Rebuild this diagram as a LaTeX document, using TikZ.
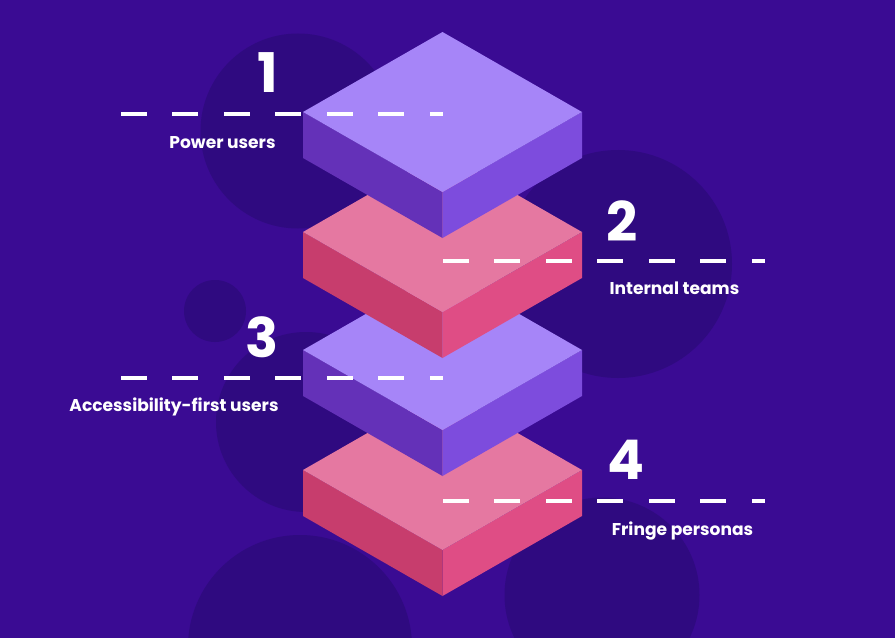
\documentclass[tikz,border=0pt]{standalone}
\usepackage{fontspec}
\setmainfont{Poppins}
\definecolor{bgviolet}{HTML}{3A0B93}
\definecolor{blobviolet}{HTML}{2F0A80}
\definecolor{liltop}{HTML}{A685F8}
\definecolor{lilleft}{HTML}{6431B8}
\definecolor{lilright}{HTML}{7D4CDD}
\definecolor{pinktop}{HTML}{E578A1}
\definecolor{pinkleft}{HTML}{C73D6D}
\definecolor{pinkright}{HTML}{DF4D85}
\tikzset{
  blob/.style={fill=blobviolet},
  leader/.style={white,line width=3pt,dash pattern=on 19.4pt off 19.2pt},
  numlabel/.style={white,inner sep=0pt,font=\fontsize{41}{41}\selectfont\bfseries},
  textlabel/.style={white,inner sep=0pt,font=\fontsize{12.8}{15}\selectfont\bfseries}
}
\begin{document}
\begin{tikzpicture}[x=0.75pt,y=-0.75pt]
  \fill[bgviolet] (0,0) rectangle (895,638);
  \useasboundingbox (0,0) rectangle (895,638);
  % background circles
  \foreach \cx/\cy/\r in {298/131/97.5,618/264/114,215/311/31,306/422/90,300/647/112,602/595/97.5}
    \fill[blob] (\cx,\cy) circle[radius=\r];
  % bricks, lowest first
  \foreach \y/\ctop/\cleft/\cright in {470/pinktop/pinkleft/pinkright,350/liltop/lilleft/lilright,232/pinktop/pinkleft/pinkright,112/liltop/lilleft/lilright}{
    \fill[\cleft] (303,\y) -- (442.5,\y+80) -- (442.5,\y+126) -- (303,\y+46) -- cycle;
    \fill[\cright] (582,\y) -- (442.5,\y+80) -- (442.5,\y+126) -- (582,\y+46) -- cycle;
    \fill[\ctop] (442.5,\y-80) -- (582,\y) -- (442.5,\y+80) -- (303,\y) -- cycle;
  }
  % leader lines
  \coordinate (startA) at (121,114.5);   \coordinate (endA) at (443,114.5);
  \coordinate (startB) at (443,260.5);   \coordinate (endB) at (765,260.5);
  \coordinate (startC) at (121,377.5);   \coordinate (endC) at (443,377.5);
  \coordinate (startD) at (443,500.5);   \coordinate (endD) at (765,500.5);
  \draw[leader] (startA) -- (endA);
  \draw[leader] (startB) -- (endB);
  \draw[leader] (startC) -- (endC);
  \draw[leader] (startD) -- (endD);
  % numbers and captions
  \node[numlabel] (numA) at (268,73) {1};
  \node[numlabel] (numB) at (622,221) {2};
  \node[numlabel] (numC) at (262,337) {3};
  \node[numlabel] (numD) at (625.5,460) {4};
  \node[textlabel] (capA) at (222.5,142.5) {Power users};
  \node[textlabel] (capB) at (674.5,288.5) {Internal teams};
  \node[textlabel] (capC) at (174,406.5) {Accessibility-first users};
  \node[textlabel] (capD) at (682.5,531) {Fringe personas};
\end{tikzpicture}
\end{document}
